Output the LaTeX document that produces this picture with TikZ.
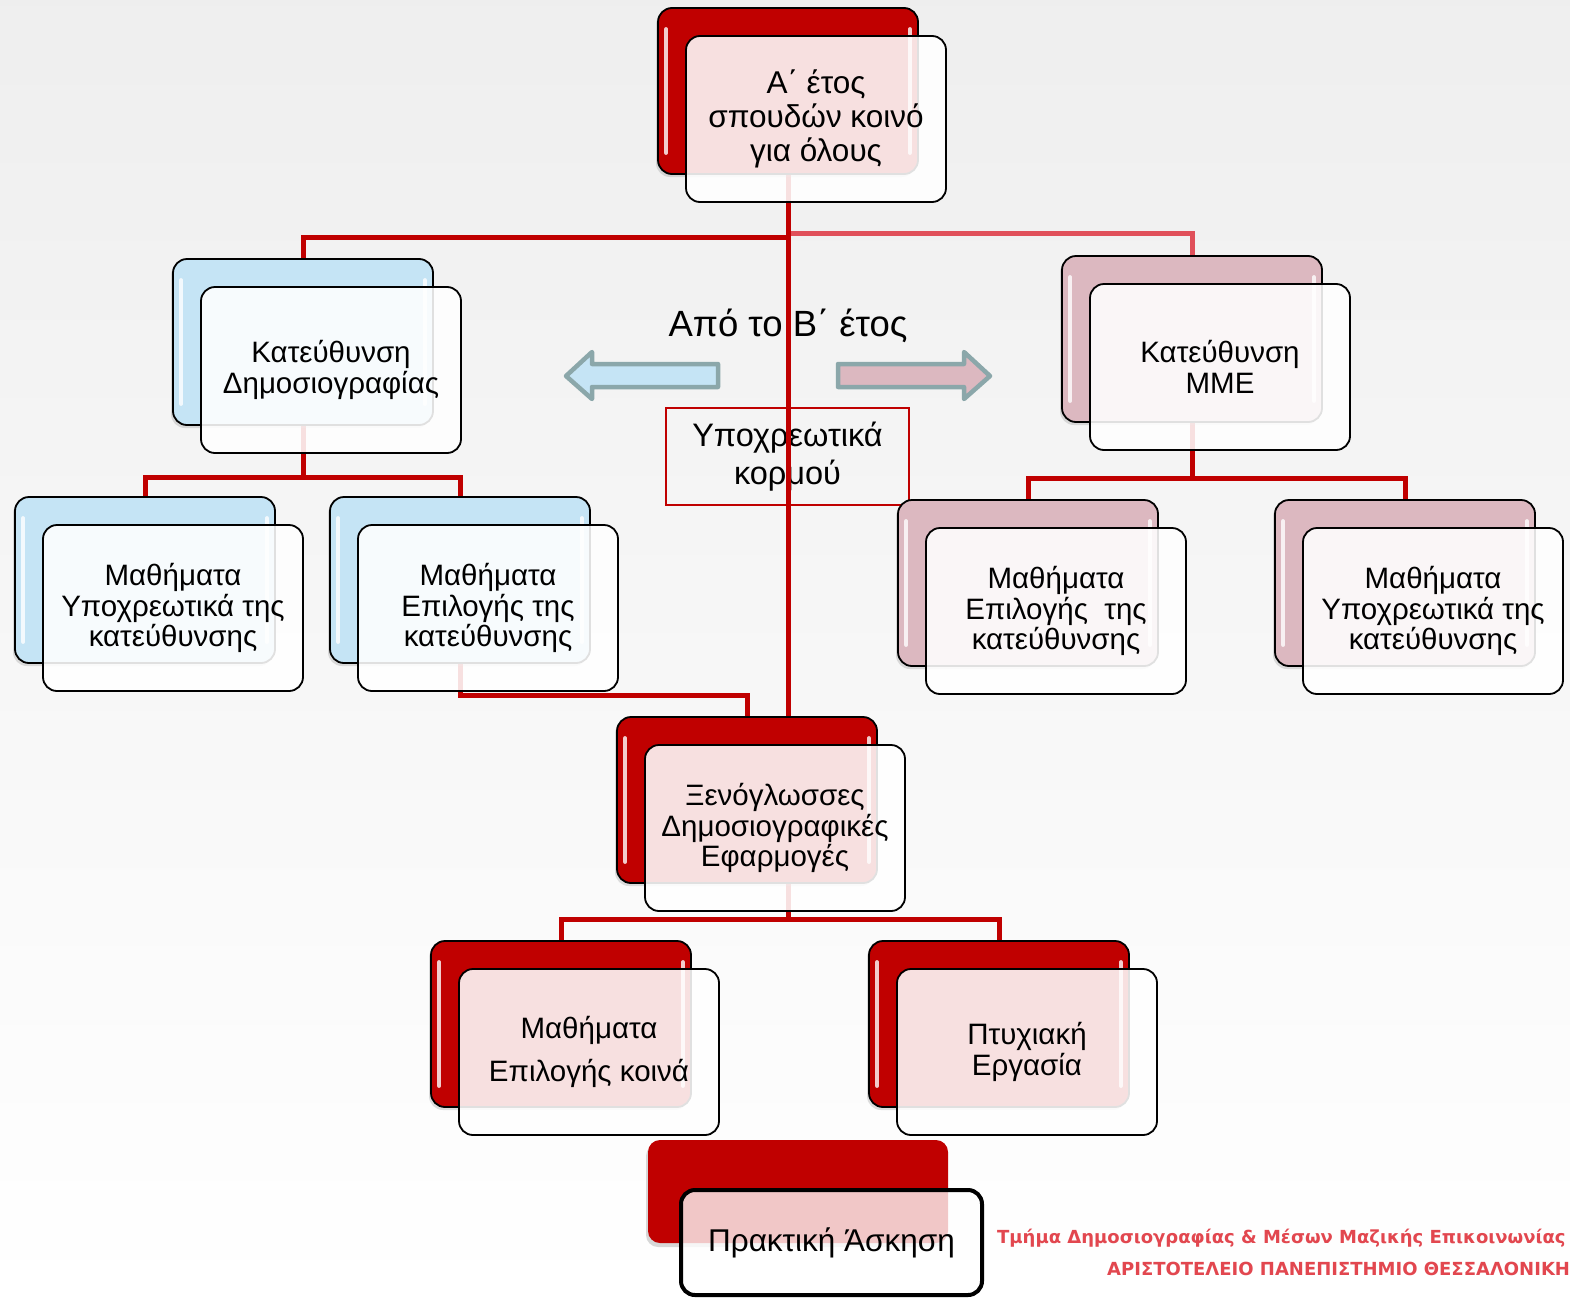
\documentclass[tikz,border=0pt]{standalone}
\usepackage{fontspec}
\setmainfont{Liberation Sans}
\newfontfamily\footfont{DejaVu Sans}
\usetikzlibrary{shadows}
\definecolor{dred}{HTML}{C00000}
\definecolor{lred}{HTML}{E0505A}
\definecolor{bblue}{HTML}{C5E4F5}
\definecolor{bpink}{HTML}{DCB8C0}
\definecolor{arrowedge}{HTML}{8BA7AA}
\definecolor{foot}{HTML}{E2474F}
\pgfdeclarelayer{bg}\pgfdeclarelayer{textl}\pgfdeclarelayer{conn}
\pgfsetlayers{bg,textl,conn,main}
\tikzset{
  backbox/.style={rounded corners=14pt, draw=black, line width=1.8pt,
    minimum width=260pt, minimum height=166pt, inner sep=0pt,
    drop shadow={opacity=0.25, shadow xshift=-2pt, shadow yshift=-3pt}},
  redb/.style={fill=dred}, blueb/.style={fill=bblue}, pinkb/.style={fill=bpink},
  frontbox/.style={rounded corners=14pt, draw=black, line width=1.8pt,
    fill=white, fill opacity=0.88, text opacity=1,
    minimum width=260pt, minimum height=166pt, inner sep=0pt, align=center,
    font=\fontsize{29.5}{30.5}\selectfont},
  conn/.style={draw=dred, line width=5pt},
  gloss/.style={draw=white, line width=4pt, line cap=round, opacity=0.8},
  bigarrow/.style={draw=arrowedge, line width=4.5pt, line join=round},
  foottext/.style={anchor=base west, inner sep=0pt, text=foot,
    font=\footfont\bfseries\fontsize{18}{22}\selectfont},
}
\newcommand\mypair[6]{%
  \node[backbox,#4] (#1B) at (#2+130,#3+83) {};
  \draw[gloss] ([xshift=9pt,yshift=-22pt]#1B.north west) -- ([xshift=9pt,yshift=22pt]#1B.south west);
  \draw[gloss] ([xshift=-9pt,yshift=-22pt]#1B.north east) -- ([xshift=-9pt,yshift=22pt]#1B.south east);
  \node[frontbox,#6] (#1F) at (#2+158,#3+111) {#5};
}
\begin{document}
\begin{tikzpicture}[x=1pt,y=-1pt]
\useasboundingbox (0,0) rectangle (1570,1298);
\begin{pgfonlayer}{bg}
  \shade[top color=gray!13, bottom color=white] (0,0) rectangle (1570,1298);
\end{pgfonlayer}

% boxes
\mypair{top}{658}{8}{redb}{Α΄ έτος\\σπουδών κοινό\\για όλους}{font=\fontsize{31.5}{34}\selectfont}
\mypair{jour}{173}{259}{blueb}{Κατεύθυνση\\Δημοσιογραφίας}{}
\mypair{mme}{1062}{256}{pinkb}{Κατεύθυνση\\ΜΜΕ}{}
\mypair{lA}{15}{497}{blueb}{Μαθήματα\\Υποχρεωτικά της\\κατεύθυνσης}{}
\mypair{lB}{330}{497}{blueb}{Μαθήματα\\Επιλογής της\\κατεύθυνσης}{}
\mypair{rA}{898}{500}{pinkb}{Μαθήματα\\Επιλογής\ \ της\\κατεύθυνσης}{}
\mypair{rB}{1275}{500}{pinkb}{Μαθήματα\\Υποχρεωτικά της\\κατεύθυνσης}{}
\mypair{xen}{617}{717}{redb}{Ξενόγλωσσες\\Δημοσιογραφικές\\Εφαρμογές}{}
\mypair{bA}{431}{941}{redb}{Μαθήματα\\[12pt]Επιλογής κοινά}{}
\mypair{bB}{869}{941}{redb}{Πτυχιακή\\Εργασία}{}

% practical training
\node[rounded corners=12pt, fill=dred, minimum width=300pt, minimum height=103pt, inner sep=0pt,
  drop shadow={opacity=0.3, shadow xshift=-2pt, shadow yshift=-4pt}] (prB) at (798,1191.5) {};
\node[rounded corners=14pt, draw=black, line width=4pt, fill=white, fill opacity=0.78, text opacity=1,
  minimum width=301pt, minimum height=105pt, inner sep=0pt,
  font=\fontsize{31.5}{34}\selectfont] (prF) at (831.5,1242.5) {Πρακτική Άσκηση};

% middle texts and arrows
\begin{pgfonlayer}{textl}
  \node[font=\fontsize{36.5}{40}\selectfont, inner sep=0pt] (apo) at (788,326) {Από το Β΄ έτος};
  \node[draw=dred, line width=1.8pt, minimum width=243pt, minimum height=97pt, inner sep=0pt,
    align=center, font=\fontsize{32.5}{38}\selectfont] (korm) at (787.5,456.5) {Υποχρεωτικά\\κορμού};
  \draw[bigarrow, fill=bblue] (566,376) -- (592,352) -- (592,364) -- (718,364) -- (718,387)
     -- (592,387) -- (592,399) -- cycle;
  \draw[bigarrow, fill=bpink] (990,376) -- (964,352) -- (964,364) -- (838,364) -- (838,387)
     -- (964,387) -- (964,399) -- cycle;
\end{pgfonlayer}

% connectors
\coordinate (hl) at (0,237);
\coordinate (hr) at (0,233);
\coordinate (jl) at (0,477);
\coordinate (ml) at (0,478);
\coordinate (lx) at (0,695);
\coordinate (split) at (0,919);
\begin{pgfonlayer}{conn}
  \draw[conn, draw=lred] (topB.south |- hr) -| (mmeB.north);
  \draw[conn] (topB.south |- hl) -| (jourB.north);
  \draw[conn] (topB.south) -- (topB.south |- split);
  \draw[conn] (jourB.south) -- (jourB.south |- jl);
  \draw[conn] (lAB.north) -- (lAB.north |- jl) -- (lBB.north |- jl) -- (lBB.north);
  \draw[conn] (mmeB.south) -- (mmeB.south |- ml);
  \draw[conn] (rAB.north) -- (rAB.north |- ml) -- (rBB.north |- ml) -- (rBB.north);
  \draw[conn] (lBB.south) -- (lBB.south |- lx) -| (xenB.north);
  \draw[conn] (bAB.north) -- (bAB.north |- split) -- (bBB.north |- split) -- (bBB.north);
\end{pgfonlayer}

% footer (cut at the right edge, as in the reference)
\begin{scope}
  \clip (0,0) rectangle (1570,1298);
  \node[foottext] (ft1) at (997,1243) {Τμήμα Δημοσιογραφίας \& Μέσων Μαζικής Επικοινωνίας};
  \node[foottext] (ft2) at (1107,1275) {ΑΡΙΣΤΟΤΕΛΕΙΟ ΠΑΝΕΠΙΣΤΗΜΙΟ ΘΕΣΣΑΛΟΝΙΚΗΣ};
\end{scope}
\end{tikzpicture}
\end{document}
